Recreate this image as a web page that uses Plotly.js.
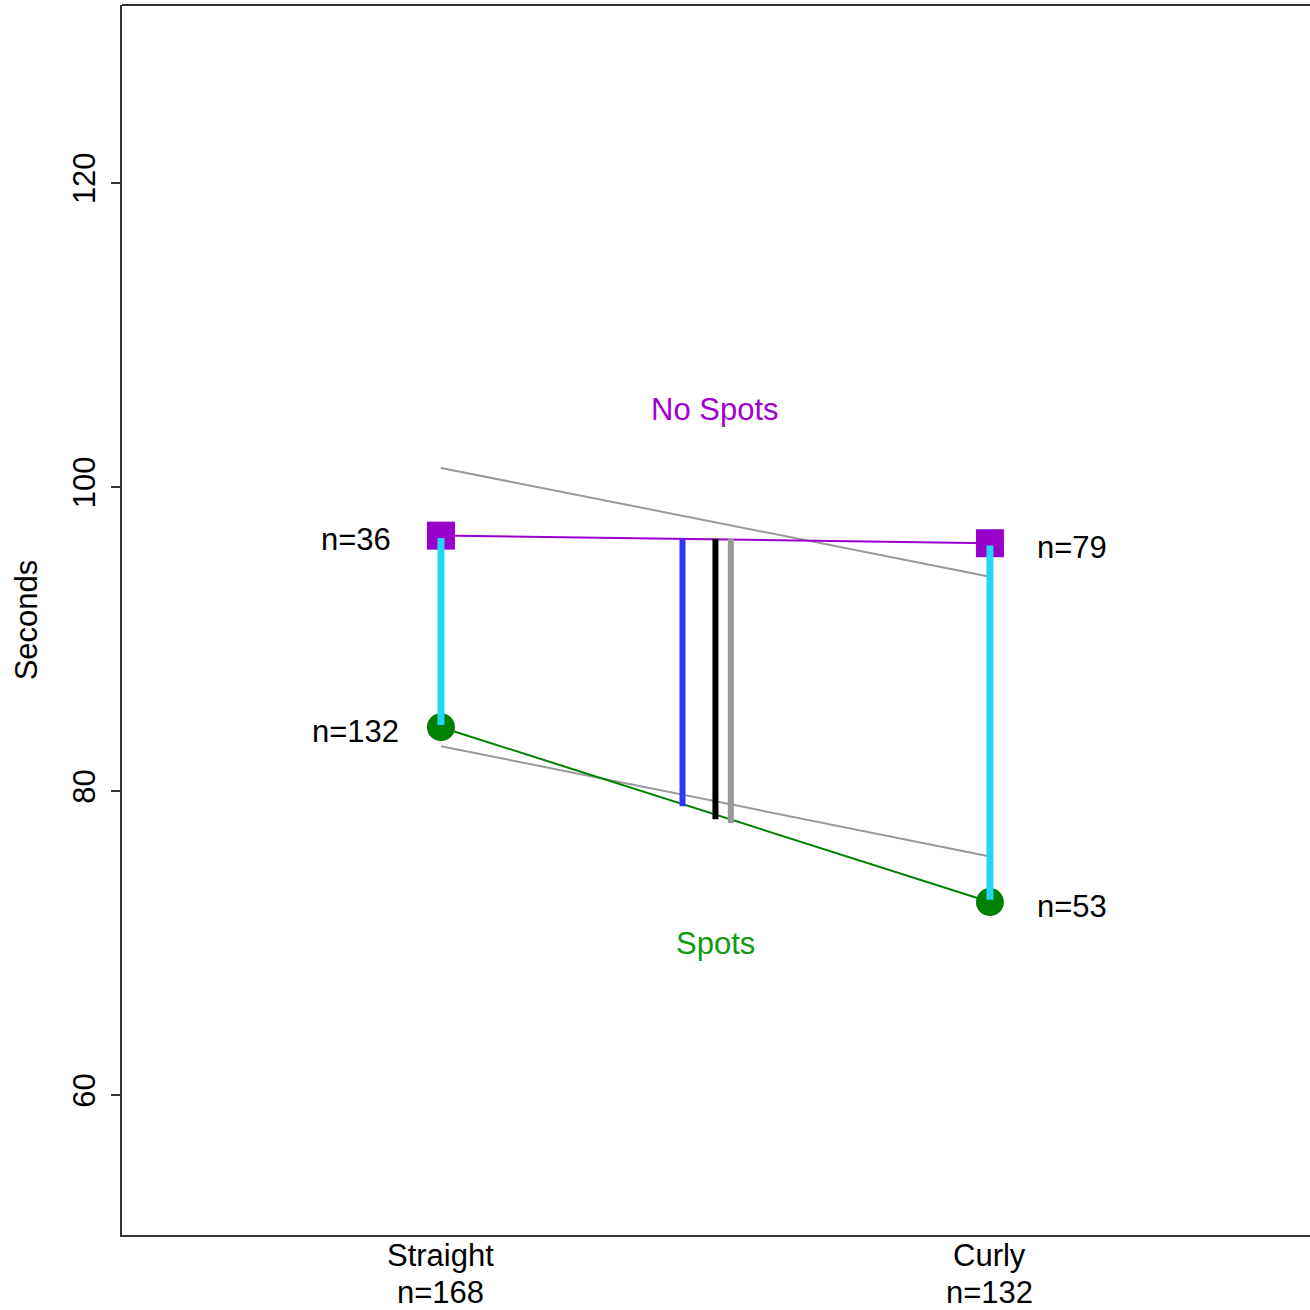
<!DOCTYPE html>
<html>
<head>
<meta charset="utf-8">
<script src="https://cdn.plot.ly/plotly-3.0.1.min.js"></script>
<style>html,body{margin:0;padding:0;background:#fff;overflow:hidden}#chart{width:1310px;height:1310px}</style>
</head>
<body>
<div id="chart"></div>
<script>
// categories (x positions 1 and 2)
const categories = ["Straight", "Curly"];
const categoryN = ["n=168", "n=132"];
const xPos = [1, 2];

// group means (seconds)
const noSpots = [96.8, 96.3];
const spots = [84.2, 72.7];
const noSpotsN = ["n=36", "n=79"];
const spotsN = ["n=132", "n=53"];

// gray reference lines
const grayUpper = [101.25, 94.1];
const grayLower = [82.95, 75.7];

// vertical effect bars: x position, top, bottom
const barX = [1.44, 1.5, 1.528];
const barTop = [96.55, 96.6, 96.6];
const barBottom = [79.0, 78.15, 77.9];
const barColors = ["#3333ff", "#000000", "#999999"];

// group labels
const groupLabelX = 1.5;
const noSpotsLabelY = 105.1;
const spotsLabelY = 70.0;

const purple = "#9900cc";
const green = "#008000";
const cyan = "#22d8f8";
const font = "Liberation Sans, Arial, sans-serif";

const traces = [];
traces.push({x: xPos, y: grayUpper, mode: "lines", line: {color: "#999999", width: 2}, hoverinfo: "skip"});
traces.push({x: xPos, y: grayLower, mode: "lines", line: {color: "#999999", width: 2}, hoverinfo: "skip"});
traces.push({x: xPos, y: noSpots, mode: "lines", line: {color: purple, width: 2}, hoverinfo: "skip"});
traces.push({x: xPos, y: spots, mode: "lines", line: {color: green, width: 2}, hoverinfo: "skip"});
for (let i = 0; i < barX.length; i++) {
  traces.push({x: [barX[i], barX[i]], y: [barTop[i], barBottom[i]], mode: "lines",
    line: {color: barColors[i], width: 6}, hoverinfo: "skip"});
}
traces.push({x: xPos, y: noSpots, mode: "markers", marker: {symbol: "square", size: 28, color: purple}, hoverinfo: "skip"});
traces.push({x: xPos, y: spots, mode: "markers", marker: {symbol: "circle", size: 28, color: green}, hoverinfo: "skip"});
for (let i = 0; i < xPos.length; i++) {
  traces.push({x: [xPos[i], xPos[i]], y: [noSpots[i] - 0.15, spots[i] + 0.15], mode: "lines",
    line: {color: cyan, width: 7}, hoverinfo: "skip"});
}

const annotations = [];
const nOffset = [-0.155, 0.15];
for (let i = 0; i < xPos.length; i++) {
  annotations.push({x: xPos[i] + nOffset[i], y: noSpots[i], text: noSpotsN[i], showarrow: false, yshift: -4,
    font: {family: font, size: 31, color: "#000"}, xanchor: "center", yanchor: "middle"});
  annotations.push({x: xPos[i] + nOffset[i], y: spots[i], text: spotsN[i], showarrow: false, yshift: -4,
    font: {family: font, size: 31, color: "#000"}, xanchor: "center", yanchor: "middle"});
  // category tick labels (two lines) under the axis
  annotations.push({x: xPos[i], yref: "paper", y: 0, text: categories[i], showarrow: false,
    xanchor: "center", yanchor: "middle", yshift: -20, font: {family: font, size: 31, color: "#000"}});
  annotations.push({x: xPos[i], yref: "paper", y: 0, text: categoryN[i], showarrow: false,
    xanchor: "center", yanchor: "middle", yshift: -57, font: {family: font, size: 31, color: "#000"}});
}
annotations.push({x: groupLabelX, y: noSpotsLabelY, text: "No Spots", showarrow: false,
  font: {family: font, size: 31, color: "#a000d0"}});
annotations.push({x: groupLabelX, y: spotsLabelY, text: "Spots", showarrow: false,
  font: {family: font, size: 31, color: "#109a10"}});

const layout = {
  width: 1310, height: 1310,
  margin: {l: 122, r: 0, t: 5, b: 75, pad: 0},
  paper_bgcolor: "#fff", plot_bgcolor: "#fff",
  showlegend: false,
  font: {family: font, size: 31, color: "#000"},
  xaxis: {
    range: [0.419, 2.583], showticklabels: false, ticks: "",
    showgrid: false, zeroline: false, showline: true, linecolor: "#333", linewidth: 2,
    fixedrange: true
  },
  yaxis: {
    range: [50.8, 131.7], tickvals: [60, 80, 100, 120], ticks: "outside", ticklen: 9,
    tickcolor: "#333", tickwidth: 2, tickangle: -90, ticklabelstandoff: 4,
    showgrid: false, zeroline: false, showline: true, linecolor: "#333", linewidth: 2,
    tickfont: {family: font, size: 31, color: "#000"},
    title: {text: "Seconds", font: {family: font, size: 31, color: "#000"}, standoff: 20},
    fixedrange: true
  },
  shapes: [{type: "line", xref: "paper", yref: "paper", x0: 0, x1: 1, y0: 1, y1: 1,
    line: {color: "#333", width: 2}}],
  annotations: annotations
};

Plotly.newPlot("chart", traces, layout, {displayModeBar: false, staticPlot: true});
</script>
</body>
</html>
